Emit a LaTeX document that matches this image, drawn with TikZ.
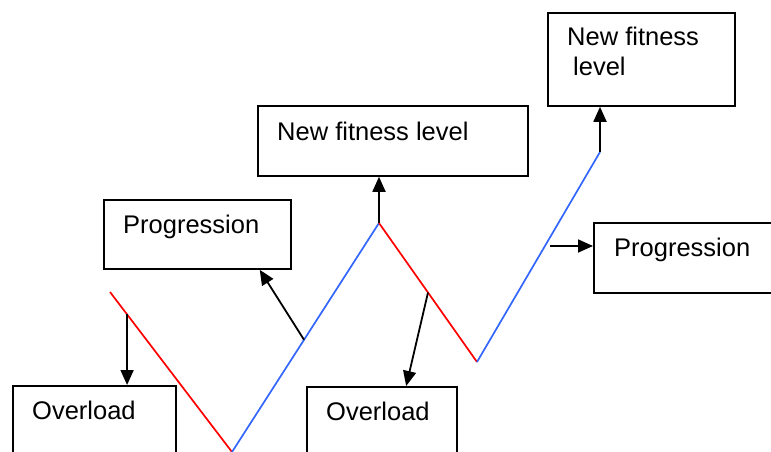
\documentclass[tikz,border=0pt]{standalone}
\usepackage{fontspec}
\setmainfont{Liberation Sans}
\usetikzlibrary{positioning,calc,arrows.meta}
\definecolor{gainblue}{RGB}{51,102,255}
\tikzset{
	tbox/.style={rectangle, draw, line width=1.8pt, anchor=north west, inner sep=0pt},
	txt/.style={font=\fontsize{25.5pt}{30pt}\selectfont, inner sep=0pt, anchor=base west},
	arr/.style={-{Triangle[length=15pt,width=13pt]}, line width=1.8pt},
	zig/.style={line width=1.7pt}
}
\begin{document}
\begin{tikzpicture}[x=1pt,y=-1pt]
	\clip (0,0) rectangle (771,452);
	\coordinate (lo0) at (110,292);
	\coordinate (lo1) at (232,452);
	\coordinate (hi1) at (379,223);
	\coordinate (lo2) at (477,362);
	\coordinate (hi2) at (600,152);
	
	\node [tbox, minimum width=163pt, minimum height=90pt] (over1) at (12,385) {};
	\node [tbox, minimum width=150pt, minimum height=90pt] (over2) at (306,386) {};
	\node [tbox, minimum width=187pt, minimum height=69pt] (prog1) at (103,199) {};
	\node [tbox, minimum width=200pt, minimum height=70pt] (prog2) at (593,222) {};
	\node [tbox, minimum width=270pt, minimum height=70pt] (newfit1) at (257,105) {};
	\node [tbox, minimum width=187pt, minimum height=93pt] (newfit2) at (547,12) {};
	
	\node [txt, below right = 34pt and 20pt of over1.north west, anchor=base west] (over1txt) {Overload};
	\node [txt, below right = 34pt and 20pt of over2.north west, anchor=base west] (over2txt) {Overload};
	\node [txt, below right = 34pt and 20pt of prog1.north west, anchor=base west] (prog1txt) {Progression};
	\node [txt, below right = 34pt and 21pt of prog2.north west, anchor=base west] (prog2txt) {Progression};
	\node [txt, below right = 35pt and 20pt of newfit1.north west, anchor=base west] (newfit1txt) {New fitness level};
	\node [txt, below right = 64pt and 20pt of newfit2.north west, anchor=base west, align=left] (newfit2txt) {New fitness\\\hspace*{6pt}level};
	
	\draw [zig, red] (lo0) -- (lo1);
	\draw [zig, gainblue] (lo1) -- (hi1);
	\draw [zig, red] (hi1) -- (lo2);
	\draw [zig, gainblue] (lo2) -- (hi2);
	
	\coordinate (r1a) at ($(lo0)!0.14!(lo1)$);
	\coordinate (b1a) at ($(lo1)!0.49!(hi1)$);
	\coordinate (r2a) at ($(hi1)!0.5!(lo2)$);
	\coordinate (b2a) at (550,246);
	
	\draw [arr] (r1a) -- (r1a |- over1.north);
	\draw [arr] (b1a) -- ($(prog1.south west)!0.83!(prog1.south east)$);
	\draw [arr] (hi1) -- (hi1 |- newfit1.south);
	\draw [arr] (r2a) -- ($(over2.north west)!0.66!(over2.north east)$);
	\draw [arr] (hi2) -- (hi2 |- newfit2.south);
	\draw [arr] (b2a) -- (b2a -| prog2.west);
\end{tikzpicture}
\end{document}
